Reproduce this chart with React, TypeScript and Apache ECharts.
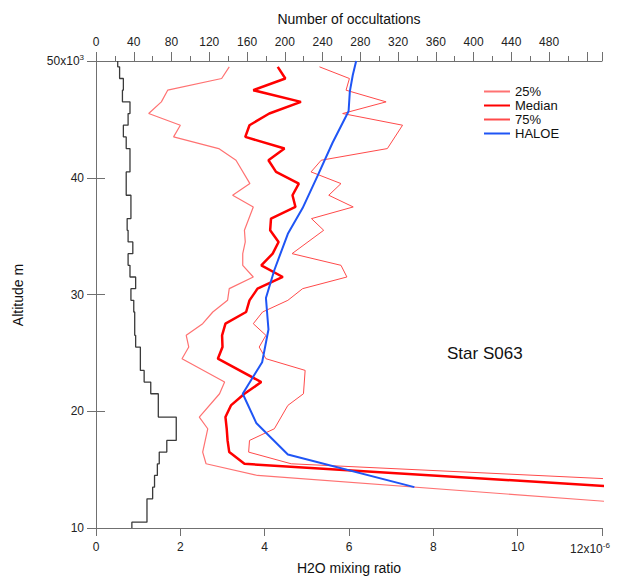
import React, { useEffect, useRef } from "react";
import * as echarts from "echarts";

// Number of occultations per 1-km altitude bin (top axis)
const occAltitude = [50, 49, 48, 47, 46, 45, 44, 43, 42, 41, 40, 39, 38, 37, 36, 35, 34, 33, 32, 31, 30, 29, 28, 27, 26, 25, 24, 23, 22, 21, 20, 19, 18, 17, 16, 15, 14, 13, 12, 11, 10];
const occCount = [23, 25, 29, 28, 36, 34, 29, 32, 36, 36, 32, 32, 37, 37, 33, 34, 39, 34, 36, 42, 37, 40, 41, 41, 42, 47, 47, 51, 58, 66, 66, 85, 85, 75, 67, 65, 62, 60, 54, 54, 38];

// H2O mixing ratio (x1e-6) profiles
const p25Alt = [49.5, 48.5, 47.5, 46.5, 45.5, 44.5, 43.5, 42.5, 41.5, 39.5, 38.5, 37.5, 35.5, 34.5, 33.5, 32.5, 31.5, 30.5, 29.5, 28.5, 27.5, 26.5, 25.5, 24.5, 22.5, 21.5, 19.5, 18.5, 16.5, 15.5, 14.5, 11.5];
const p25Val = [3.16, 2.98, 1.70, 1.55, 1.25, 2.00, 1.84, 2.91, 3.32, 3.65, 3.24, 3.73, 3.52, 3.54, 3.48, 3.48, 3.73, 3.16, 3.12, 2.77, 2.53, 2.14, 2.20, 2.04, 3.05, 2.93, 2.45, 2.65, 2.53, 2.61, 3.83, 15.0];

const medAlt = [49.5, 48.5, 47.5, 46.5, 45.5, 44.5, 43.5, 42.5, 41.5, 40.5, 39.5, 38.5, 37.5, 36.5, 35.5, 34.5, 33.5, 32.5, 31.5, 30.5, 29.5, 28.5, 27.5, 26.5, 25.5, 24.5, 22.5, 21.5, 20.5, 19.5, 18.5, 17.5, 16.5, 15.5, 13.5];
const medVal = [4.31, 4.49, 3.73, 4.86, 4.11, 3.64, 3.54, 4.47, 4.09, 4.27, 4.81, 4.66, 4.73, 4.15, 4.13, 4.33, 4.19, 3.92, 4.43, 3.83, 3.64, 3.56, 3.07, 2.99, 3.00, 2.89, 3.92, 3.52, 3.20, 3.07, 3.10, 3.12, 3.16, 3.52, 12.5];

const p75Alt = [49.5, 48.5, 47.5, 46.5, 45.5, 44.5, 42.5, 41.5, 40.5, 39.5, 38.5, 37.5, 36.5, 35.5, 33.5, 32.5, 31.5, 30.5, 29.5, 28.5, 27.5, 26.5, 25.5, 24.5, 23.5, 21.5, 20.5, 18.5, 17.5, 16.5, 15.5, 13.5];
const p75Val = [5.30, 6.01, 5.93, 6.88, 5.85, 7.27, 6.91, 5.34, 5.10, 5.81, 5.52, 6.10, 5.11, 5.40, 4.65, 5.81, 5.95, 4.90, 4.55, 3.95, 3.73, 4.03, 3.87, 4.03, 4.96, 4.92, 4.55, 4.23, 3.64, 3.62, 4.63, 16.3];

const haloeAlt = [50.0, 48.8, 47.4, 45.7, 43.0, 40.2, 37.4, 35.2, 32.1, 29.7, 27.0, 24.2, 21.5, 19.0, 16.3, 13.5];
const haloeVal = [6.17, 6.09, 6.02, 5.99, 5.61, 5.26, 4.90, 4.55, 4.23, 4.03, 4.09, 3.94, 3.48, 3.80, 4.55, 7.55];

const FONT = "'Liberation Sans', Arial, sans-serif";
const AXIS_COLOR = "#707070";
const LABEL_COLOR = "#222";

export default function App() {
  const ref = useRef<HTMLDivElement>(null);

  useEffect(() => {
    if (!ref.current) return;
    const chart = echarts.init(ref.current, null, { renderer: "svg" });

    const occPts: number[][] = [];
    occAltitude.forEach((a, i) => {
      const top = Math.min(50, a + 0.5);
      const bot = Math.max(10, a - 0.5);
      occPts.push([occCount[i], top], [occCount[i], bot]);
    });
    const pair = (vals: number[], alts: number[]) => vals.map((v, i) => [v, alts[i]]);

    const supRich = {
      n: { fontSize: 12, color: LABEL_COLOR, fontFamily: FONT },
      s: { fontSize: 8, color: LABEL_COLOR, fontFamily: FONT, verticalAlign: "top", padding: [0, 0, 7, 0] },
      s2: { fontSize: 8, color: LABEL_COLOR, fontFamily: FONT, verticalAlign: "top", padding: [0, 24, 7, 0] },
    };

    const option: any = {
      animation: false,
      backgroundColor: "#fff",
      textStyle: { fontFamily: FONT },
      grid: { left: 96, right: 24, top: 61, bottom: 49, containLabel: false },
      legend: {
        orient: "vertical",
        left: 478,
        top: 80,
        itemWidth: 26,
        itemHeight: 14,
        itemGap: 1,
        data: ["25%", "Median", "75%", "HALOE"],
        itemStyle: { color: "rgba(0,0,0,0)", opacity: 0, borderWidth: 0 },
        textStyle: { fontSize: 13, color: "#111", fontFamily: FONT },
      },
      xAxis: [
        {
          type: "value",
          position: "bottom",
          min: 0,
          max: 12,
          interval: 2,
          axisLine: { show: true, lineStyle: { color: AXIS_COLOR, width: 1 } },
          axisTick: { show: true, inside: false, length: 8, lineStyle: { color: AXIS_COLOR } },
          splitLine: { show: false },
          axisLabel: {
            margin: 13,
            fontSize: 12,
            color: LABEL_COLOR,
            fontFamily: FONT,
            formatter: (v: number) => (v === 12 ? "{n|12x10}{s2|-6}" : String(v)),
            rich: supRich,
          },
        },
        {
          type: "value",
          position: "top",
          min: 0,
          max: 536,
          interval: 40,
          axisLine: { show: true, lineStyle: { color: AXIS_COLOR, width: 1 } },
          axisTick: { show: true, inside: false, length: 9, lineStyle: { color: AXIS_COLOR } },
          minorTick: { show: true, splitNumber: 2, length: 5, lineStyle: { color: AXIS_COLOR } },
          splitLine: { show: false },
          axisLabel: {
            margin: 13,
            fontSize: 12,
            color: LABEL_COLOR,
            fontFamily: FONT,
            showMaxLabel: false,
            formatter: (v: number) => (v > 480 ? "" : String(v)),
          },
        },
      ],
      yAxis: [
        {
          type: "value",
          position: "left",
          min: 10,
          max: 50,
          interval: 10,
          axisLine: { show: true, lineStyle: { color: AXIS_COLOR, width: 1 } },
          axisTick: { show: true, inside: false, length: 9, lineStyle: { color: AXIS_COLOR } },
          splitLine: { show: false },
          axisLabel: {
            margin: 12,
            fontSize: 12,
            color: LABEL_COLOR,
            fontFamily: FONT,
            formatter: (v: number) => (v === 50 ? "{n|50x10}{s|3}" : String(v)),
            rich: supRich,
          },
        },
        {
          type: "value",
          position: "right",
          min: 10,
          max: 50,
          interval: 10,
          axisLine: { show: true, lineStyle: { color: AXIS_COLOR, width: 1 } },
          axisTick: { show: true, inside: false, length: 9, lineStyle: { color: AXIS_COLOR } },
          splitLine: { show: false },
          axisLabel: { show: false },
        },
      ],
      series: [
        {
          name: "Occultations",
          type: "line",
          xAxisIndex: 1,
          yAxisIndex: 0,
          data: occPts,
          symbol: "none",
          lineStyle: { color: "#3a3a3a", width: 1.3 },
          itemStyle: { color: "#3a3a3a" },
          clip: true,
        },
        {
          name: "25%",
          type: "line",
          xAxisIndex: 0,
          yAxisIndex: 0,
          data: pair(p25Val, p25Alt),
          symbol: "none",
          lineStyle: { color: "#ff7272", width: 1.2 },
          itemStyle: { color: "#ff7272" },
          clip: true,
        },
        {
          name: "Median",
          type: "line",
          xAxisIndex: 0,
          yAxisIndex: 0,
          data: pair(medVal, medAlt),
          symbol: "none",
          lineStyle: { color: "#ff0000", width: 2.5 },
          itemStyle: { color: "#ff0000" },
          clip: true,
        },
        {
          name: "75%",
          type: "line",
          xAxisIndex: 0,
          yAxisIndex: 0,
          data: pair(p75Val, p75Alt),
          symbol: "none",
          lineStyle: { color: "#ff4a4a", width: 1 },
          itemStyle: { color: "#ff4a4a" },
          clip: true,
        },
        {
          name: "HALOE",
          type: "line",
          xAxisIndex: 0,
          yAxisIndex: 0,
          data: pair(haloeVal, haloeAlt),
          symbol: "none",
          lineStyle: { color: "#1f55f5", width: 2 },
          itemStyle: { color: "#1f55f5" },
          clip: true,
        },
      ],
      graphic: [
        {
          type: "text",
          x: 349,
          y: 19,
          style: { text: "Number of occultations", fontSize: 14, fill: "#111", fontFamily: FONT, textAlign: "center", textVerticalAlign: "middle" },
        },
        {
          type: "text",
          x: 349,
          y: 568,
          style: { text: "H2O mixing ratio", fontSize: 14, fill: "#111", fontFamily: FONT, textAlign: "center", textVerticalAlign: "middle" },
        },
        {
          type: "text",
          x: 18,
          y: 295,
          rotation: Math.PI / 2,
          style: { text: "Altitude m", fontSize: 14, fill: "#111", fontFamily: FONT, textAlign: "center", textVerticalAlign: "middle" },
        },
        {
          type: "text",
          x: 447,
          y: 353,
          style: { text: "Star S063", fontSize: 17, fill: "#111", fontFamily: FONT, textAlign: "left", textVerticalAlign: "middle" },
        },
      ],
    };

    chart.setOption(option);
    return () => chart.dispose();
  }, []);

  return <div ref={ref} style={{ position: "fixed", left: 0, top: 0, width: 626, height: 577 }} />;
}
